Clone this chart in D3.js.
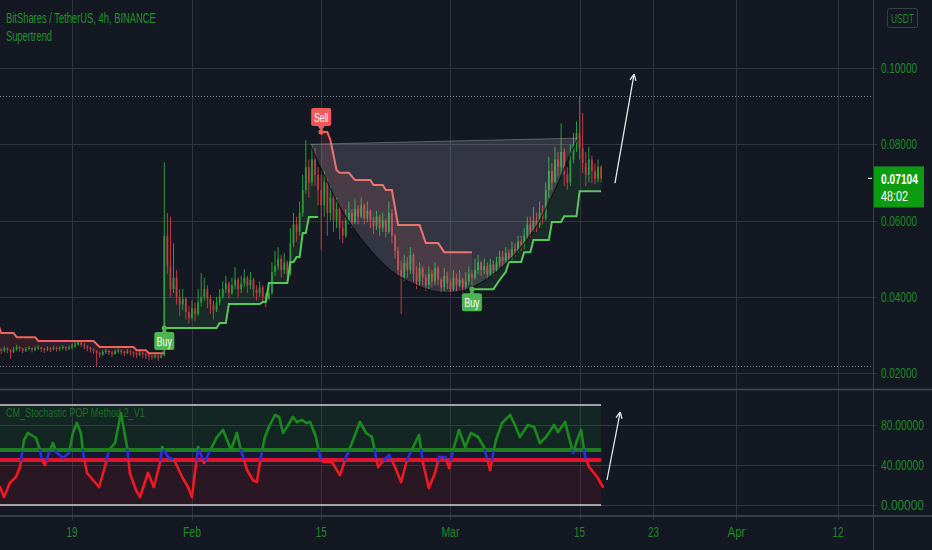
<!DOCTYPE html>
<html><head><meta charset="utf-8">
<script src="https://cdn.jsdelivr.net/npm/d3@7"></script>
<style>html,body{margin:0;padding:0;background:#141823;overflow:hidden}</style>
</head><body>
<svg id="chart" width="932" height="550"></svg>
<script>
// ---------------- DATA ----------------
const title = "BitShares / TetherUS, 4h, BINANCE";
const studyName = "Supertrend";
const oscName = "CM_Stochastic POP Method 2_V1";
const candleStart = Date.UTC(2021, 0, 11, 0);   // first candle
const candleHours = 8;
const firstOpen = 0.0262;
const closes = [
.0262,.0258,.0265,.0260,.0255,.0262,.0268,.0264,.0259,.0263,.0266,.0261,.0264,.0267,.0263,.0260,.0264,
.0262,.0266,.0263,.0265,.0268,.0264,.0267,.0270,.0274,.0280,.0274,.0270,.0265,.0262,
.0258,.0252,.0248,.0255,.0258,.0254,.0250,.0256,.0259,.0255,.0252,.0257,.0254,.0250,.0248,.0252,.0249,.0246,.0244,
.0242,.0245,.0240,.0246,
.0560,.0480,.0420,.0450,.0400,.0380,.0395,.0360,.0345,.0370,.0355,.0385,.0400,.0420,.0395,.0380,.0365,
.0385,.0400,.0420,.0435,.0410,.0430,.0445,.0420,.0435,.0450,.0430,.0445,.0420,.0410,.0425,.0400,.0395,.0410,.0465,.0480,.0500,.0470,.0490,.0460,
.0540,.0590,.0570,.0620,.0680,.0740,.0700,.0760,.0720,.0680,
.0640,.0700,.0620,.0660,.0600,.0630,.0580,.0560,.0600,.0620,.0595,.0630,.0610,.0640,.0605,.0625,.0600,
.0585,.0610,.0580,.0600,.0570,.0620,.0560,.0520,.0470,.0450,.0490,.0470,.0510,.0460,.0440,.0475,.0450,
.0430,.0460,.0440,.0475,.0445,.0425,.0455,.0435,.0420,.0450,.0430,.0445,.0425,.0440,.0460,
.0450,.0470,.0490,.0470,.0480,.0460,.0485,.0470,.0490,.0505,.0495,.0515,.0500,.0525,.0520,.0545,.0535,
.0560,.0590,.0570,.0600,.0585,.0620,.0605,.0680,.0730,.0700,.0760,.0740,.0780,.0720,.0700,.0760,.0800,.0830,.0790,.0750,.0720,.0760,.0730,.0710,.0740,.07104];
const highs = [
.0268,.0265,.0270,.0267,.0262,.0268,.0274,.0270,.0266,.0268,.0271,.0267,.0270,.0273,.0269,.0266,.0270,
.0268,.0271,.0269,.0270,.0273,.0270,.0272,.0277,.0281,.0285,.0283,.0278,.0272,.0268,
.0265,.0260,.0255,.0260,.0264,.0261,.0257,.0262,.0265,.0262,.0258,.0263,.0260,.0256,.0254,.0258,.0255,.0252,.0250,
.0248,.0250,.0247,.0252,
.0753,.0620,.0610,.0540,.0470,.0420,.0420,.0400,.0375,.0390,.0385,.0420,.0462,.0450,.0430,.0405,.0390,
.0400,.0420,.0440,.0455,.0440,.0450,.0478,.0450,.0455,.0472,.0455,.0465,.0450,.0430,.0440,.0430,.0410,.0440,.0490,.0520,.0530,.0510,.0515,.0495,
.0580,.0620,.0610,.0650,.0720,.0811,.0760,.0800,.0790,.0740,
.0720,.0730,.0710,.0690,.0670,.0660,.0640,.0600,.0630,.0650,.0630,.0655,.0640,.0660,.0645,.0650,.0630,
.0610,.0625,.0615,.0620,.0605,.0650,.0630,.0565,.0530,.0495,.0510,.0505,.0530,.0515,.0480,.0490,.0480,
.0460,.0480,.0470,.0490,.0480,.0450,.0475,.0465,.0445,.0470,.0460,.0470,.0450,.0465,.0480,
.0470,.0500,.0510,.0495,.0500,.0490,.0500,.0495,.0505,.0520,.0520,.0530,.0525,.0545,.0540,.0560,.0560,
.0580,.0610,.0610,.0635,.0620,.0650,.0640,.0700,.0767,.0750,.0793,.0780,.0854,.0790,.0740,.0800,.0830,.0860,.0924,.0882,.0780,.0793,.0770,.0750,.0760,.0745];
const lows = [
.0255,.0250,.0254,.0252,.0238,.0252,.0258,.0256,.0252,.0255,.0259,.0254,.0257,.0260,.0255,.0252,.0257,
.0255,.0259,.0256,.0258,.0261,.0258,.0260,.0262,.0266,.0272,.0268,.0262,.0257,.0254,
.0250,.0216,.0240,.0245,.0250,.0247,.0242,.0248,.0252,.0248,.0244,.0250,.0246,.0242,.0240,.0244,.0240,.0237,.0233,
.0235,.0237,.0232,.0238,
.0244,.0460,.0400,.0410,.0380,.0350,.0365,.0340,.0330,.0340,.0335,.0350,.0375,.0390,.0370,.0355,.0340,
.0360,.0378,.0395,.0410,.0395,.0405,.0420,.0400,.0410,.0425,.0410,.0420,.0400,.0390,.0400,.0385,.0372,.0390,.0405,.0455,.0470,.0450,.0460,.0440,
.0455,.0530,.0545,.0560,.0610,.0670,.0660,.0690,.0690,.0640,
.0523,.0610,.0560,.0600,.0570,.0580,.0550,.0540,.0555,.0590,.0580,.0590,.0590,.0605,.0590,.0595,.0580,
.0565,.0575,.0560,.0570,.0555,.0565,.0540,.0500,.0455,.0355,.0440,.0450,.0460,.0440,.0420,.0430,.0430,
.0415,.0420,.0425,.0430,.0430,.0410,.0415,.0420,.0405,.0415,.0415,.0425,.0410,.0415,.0430,
.0430,.0445,.0460,.0455,.0460,.0445,.0455,.0455,.0465,.0480,.0480,.0490,.0490,.0495,.0505,.0515,.0520,
.0525,.0550,.0555,.0570,.0570,.0580,.0590,.0600,.0660,.0680,.0700,.0715,.0720,.0690,.0680,.0690,.0750,.0780,.0760,.0725,.0690,.0700,.0698,.0695,.0700,.0700];

// Supertrend legs: [candle index, level]
const stRed1 = [[0,.0328],[1,.0305],[5,.0305],[6,.0294],[12,.0294],[13,.0284],[31,.0284],[33,.0268],[44,.0268],[45,.0260],[48,.0260],[49,.0252],[54,.0252]];
const stGreen1 = [[54,.0318],[71,.0318],[72,.0331],[74,.0331],[75,.0381],[85,.0381],[86,.0386],[87,.0386],[88,.0436],[94,.0436],[95,.0491],[96,.0491],[97,.0504],[98,.0504],[99,.0567],[100,.0567],[101,.0609],[104,.0609]];
const stRed2 = [[105,.0832],[107,.0832],[108,.0811],[109,.0772],[110,.0732],[111,.0725],[114,.0725],[116,.0706],[121,.0706],[122,.0693],[125,.0693],[126,.0680],[128,.0680],[130,.0588],[137,.0588],[139,.0541],[143,.0541],[145,.0517],[154,.0517]];
const stGreen2 = [[154,.0420],[161,.0420],[163,.0444],[165,.0465],[166,.0491],[170,.0491],[171,.0517],[173,.0517],[174,.0549],[179,.0549],[180,.0596],[183,.0596],[184,.0611],[188,.0611],[189,.0677],[196,.0677]];
const signalIdx = [54, 105, 154];
const signalType = ["Buy", "Sell", "Buy"];
const signalLevel = [.0318, .0832, .0420];

// Cup drawing (index, price)
const cupIdx = [101.4,105.6,111.1,116.6,121.8,127.4,132.9,138.1,143.6,149.2,154.4,159.9,165.4,170.6,175.2,179.4,182.7,185.9,188.5];
const cupPrice = [.0800,.0725,.0635,.0567,.0515,.0470,.0441,.0423,.0412,.0412,.0426,.0452,.0489,.0536,.0588,.0654,.0711,.0772,.0816];
// Arrows (index, value)
const arrowMain = [[200.5,.0698],[206.7,.0984]];
const arrowOsc = [[197.9,25],[202.2,93]];

// Stochastic
const stochIdx = [0.6,1.9,3.8,5.8,7.1,8.4,9.7,12.3,13.6,14.2,15.2,16.5,17.8,19.1,21.1,23,24.3,25.6,26.9,27.6,
28.9,30.8,32.8,34.7,36,38,39.9,41.9,42.8,44.8,46.1,48.7,50.6,52.6,53.3,55.2,57.2,59.8,61.7,63,
65,66.9,69.5,71.1,73.1,74.4,75.7,77.6,78.9,80.9,82.8,84.1,85.4,86.7,88,90,91.3,92.6,93.9,95.8,
97.1,98.8,100.1,101.4,103.3,104.6,105.9,108.5,111.1,113.1,115,117.6,119.6,121.5,123.5,125.4,127.1,129,131,132.9,
134.9,136.8,138.1,140,142,143.3,145.3,146.6,147.9,149.8,151.8,153.7,156,157.9,159.9,161.8,163.8,166.4,167.7,169.6,
172.2,174.2,176.1,178.1,180.7,182,184.3,185.6,186.9,188.2,189.5,190.8,192.1,194.7,196.6];
const stochVal = [18,8,22,28,38,65,72,67,55,45,40,52,62,52,47,52,72,82,72,52,
32,25,18,38,55,62,92,58,32,15,8,32,18,42,58,48,45,28,18,8,
58,42,58,68,75,65,55,72,55,35,25,23,48,68,78,90,88,72,78,88,
83,85,82,83,68,48,43,43,30,48,62,83,72,68,38,45,50,38,23,45,
58,70,42,17,32,48,48,37,55,75,58,72,68,58,35,65,82,90,82,68,
80,78,62,68,80,73,83,67,52,65,75,48,38,28,18];
const upperBand = 55, lowerBand = 45, oscTop = 100, oscBottom = 0;

const priceTicks = [0.02, 0.04, 0.06, 0.08, 0.10];
const oscTicks = [0, 40, 80];
const timeTicks = [[2021,0,19],[2021,1,1],[2021,1,15],[2021,2,1],[2021,2,15],[2021,2,23],[2021,3,1],[2021,3,12]];
const timeLabels = ["19","Feb","15","Mar","15","23","Apr","12"];
const lastPrice = "0.07104", countdown = "48:02", currency = "USDT";

// ---------------- DRAW ----------------
const svg = d3.select("#chart");
const W = 932, AX = 873, PANE1 = 389.5, PANE2 = 516;
const FONT = "'Liberation Sans', Arial, sans-serif";
const GREEN_TXT = "#1f9428";
const AXIS_TXT = "#1d8a26";

const xT = d3.scaleUtc().domain([new Date(Date.UTC(2021,0,19)), new Date(Date.UTC(2021,3,12))]).range([72, 838]);
const X = i => xT(new Date(candleStart + i * candleHours * 3600e3));
const yP = d3.scaleLinear().domain([0.10, 0.02]).range([68, 373]);
const yS = d3.scaleLinear().domain([100, 0]).range([405, 505]);

svg.append("rect").attr("width", W).attr("height", 550).attr("fill", "#141823");

const defs = svg.append("defs");
defs.append("clipPath").attr("id","cp1").append("rect").attr("x",0).attr("y",0).attr("width",AX).attr("height",PANE1);
defs.append("clipPath").attr("id","cp2").append("rect").attr("x",0).attr("y",PANE1).attr("width",AX).attr("height",PANE2-PANE1);

// grid
const grid = svg.append("g").attr("stroke", "#30343f").attr("stroke-width", 1);
timeTicks.forEach(t => {
  const x = Math.round(xT(new Date(Date.UTC(...t)))) + 0.5;
  grid.append("line").attr("x1", x).attr("x2", x).attr("y1", 0).attr("y2", PANE2 + 4);
});
priceTicks.forEach(p => {
  const y = Math.round(yP(p)) + 0.5;
  grid.append("line").attr("x1", 0).attr("x2", AX + 4).attr("y1", y).attr("y2", y);
});
oscTicks.forEach(v => {
  const y = Math.round(yS(v)) + 0.5;
  grid.append("line").attr("x1", 0).attr("x2", AX + 4).attr("y1", y).attr("y2", y);
});

// ---- main pane
const main = svg.append("g").attr("clip-path", "url(#cp1)");
const opens = closes.map((c, i) => i === 0 ? firstOpen : closes[i - 1]);
const hi = d3.max(highs), lo = d3.min(lows);
[hi, lo].forEach(p => {
  const y = Math.round(yP(p)) - 0.5;
  main.append("line").attr("x1", 0).attr("x2", AX).attr("y1", y).attr("y2", y)
    .attr("stroke", "#80838c").attr("stroke-dasharray", "1,2").attr("stroke-width", 1);
});

// supertrend fills
function stFill(leg, color) {
  const a = leg[0][0], b = leg[leg.length - 1][0];
  const top = leg.map(d => [X(d[0]), yP(d[1])]);
  const mids = d3.range(b, a - 1, -1).map(i => [X(i), yP((opens[i] + closes[i]) / 2)]);
  main.append("path").attr("d", d3.line()(top.concat(mids)) + "Z").attr("fill", color).attr("stroke", "none");
}
stFill(stRed1, "rgba(240,83,80,0.13)");
stFill(stGreen1, "rgba(76,175,80,0.12)");
stFill(stRed2, "rgba(240,83,80,0.13)");
stFill(stGreen2, "rgba(76,175,80,0.12)");

// candles
const cg = main.append("g");
closes.forEach((c, i) => {
  const o = opens[i], x = X(i);
  const col = c >= o ? "#2a9d3a" : "#c23a42";
  cg.append("line").attr("x1", x).attr("x2", x).attr("y1", yP(highs[i])).attr("y2", yP(lows[i]))
    .attr("stroke", col).attr("stroke-width", 1);
  const y1 = yP(Math.max(o, c)), y2 = yP(Math.min(o, c));
  cg.append("rect").attr("x", x - 0.9).attr("width", 1.8).attr("y", y1).attr("height", Math.max(1, y2 - y1)).attr("fill", col);
});

// supertrend lines
const line = d3.line().x(d => X(d[0])).y(d => yP(d[1]));
[[stRed1, "#f0625e"], [stGreen1, "#58c85c"], [stRed2, "#f0625e"], [stGreen2, "#58c85c"]].forEach(([leg, col]) => {
  main.append("path").attr("d", line(leg)).attr("fill", "none").attr("stroke", col).attr("stroke-width", 2);
});

// cup drawing
const cupPts = cupIdx.map((d, k) => [X(d), yP(cupPrice[k])]);
const curvePath = d3.line().curve(d3.curveCatmullRom)(cupPts);
main.append("path").attr("d", curvePath + "Z").attr("fill", "rgba(205,208,220,0.17)").attr("stroke", "none");
main.append("path").attr("d", curvePath).attr("fill", "none").attr("stroke", "rgba(10,10,14,0.75)").attr("stroke-width", 1.2);
main.append("line").attr("x1", cupPts[0][0]).attr("y1", cupPts[0][1]).attr("x2", cupPts[cupPts.length-1][0]).attr("y2", cupPts[cupPts.length-1][1])
  .attr("stroke", "rgba(200,202,210,0.35)").attr("stroke-width", 1);

// text helper: fit text to a target width by horizontal scaling
function txt(parent, x, y, s, size, fill, opts = {}) {
  const g = parent.append("g").attr("transform", `translate(${x},${y})`);
  const t = g.append("text").attr("x", 0).attr("y", 0).attr("font-family", FONT).attr("font-size", size)
    .attr("fill", fill).attr("font-weight", opts.weight || "normal").attr("text-anchor", opts.anchor || "start").text(s);
  if (opts.len) {
    const w = t.node().getComputedTextLength();
    if (w > 0) t.attr("transform", `scale(${opts.len / w},1)`);
  }
  return g;
}

// signals
signalIdx.forEach((i, k) => {
  const type = signalType[k];
  const x = X(i), y = yP(signalLevel[k]);
  const g = main.append("g");
  if (type === "Buy") {
    const col = "#4cb550";
    g.append("circle").attr("cx", x).attr("cy", y).attr("r", 2.6).attr("fill", col);
    g.append("path").attr("d", `M${x},${y+1}L${x-3.5},${y+5}L${x+3.5},${y+5}Z`).attr("fill", col);
    g.append("rect").attr("x", x - 10).attr("y", y + 4).attr("width", 20).attr("height", 18).attr("rx", 2).attr("fill", col);
    txt(g, x, y + 18, "Buy", 13, "#fff", { anchor: "middle", len: 15 });
  } else {
    const col = "#f05a58";
    g.append("circle").attr("cx", x).attr("cy", y).attr("r", 2.6).attr("fill", col);
    g.append("path").attr("d", `M${x},${y-1}L${x-3.5},${y-6}L${x+3.5},${y-6}Z`).attr("fill", col);
    g.append("rect").attr("x", x - 10).attr("y", y - 24).attr("width", 20).attr("height", 18).attr("rx", 2).attr("fill", col);
    txt(g, x, y - 10, "Sell", 13, "#fff", { anchor: "middle", len: 14 });
  }
});

// arrows
function arrow(g, p0, p1) {
  g.append("line").attr("x1", p0[0]).attr("y1", p0[1]).attr("x2", p1[0]).attr("y2", p1[1])
    .attr("stroke", "#e6e6ea").attr("stroke-width", 1.3);
  const ang = Math.atan2(p1[1] - p0[1], p1[0] - p0[0]);
  [0.45, -0.45].forEach(da => {
    const a = ang + Math.PI + da;
    g.append("line").attr("x1", p1[0]).attr("y1", p1[1]).attr("x2", p1[0] + 7 * Math.cos(a)).attr("y2", p1[1] + 7 * Math.sin(a))
      .attr("stroke", "#e6e6ea").attr("stroke-width", 1.3);
  });
}
arrow(main, [X(arrowMain[0][0]), yP(arrowMain[0][1])], [X(arrowMain[1][0]), yP(arrowMain[1][1])]);

// ---- oscillator pane
const osc = svg.append("g").attr("clip-path", "url(#cp2)");
const x0 = X(0) < 0 ? 0 : X(0), x1 = X(closes.length - 1);
osc.append("rect").attr("x", x0).attr("width", x1 - x0).attr("y", yS(oscTop)).attr("height", yS(upperBand) - yS(oscTop)).attr("fill", "rgba(20,140,40,0.13)");
osc.append("rect").attr("x", x0).attr("width", x1 - x0).attr("y", yS(upperBand)).attr("height", yS(lowerBand) - yS(upperBand)).attr("fill", "rgba(40,40,200,0.10)");
osc.append("rect").attr("x", x0).attr("width", x1 - x0).attr("y", yS(lowerBand)).attr("height", yS(oscBottom) - yS(lowerBand)).attr("fill", "rgba(160,20,40,0.15)");
[[oscTop, "#cfcfd4", 1.4], [oscBottom, "#cfcfd4", 1.4], [upperBand, "#1f7d1f", 4], [lowerBand, "#e0142a", 4]].forEach(([v, col, w]) => {
  osc.append("line").attr("x1", x0).attr("x2", x1).attr("y1", yS(v)).attr("y2", yS(v)).attr("stroke", col).attr("stroke-width", w);
});
const colOf = v => v > upperBand ? "#1a8a1e" : (v < lowerBand ? "#ee1a22" : "#2f2fd8");
for (let k = 0; k < stochIdx.length - 1; k++) {
  const a = [stochIdx[k], stochVal[k]], b = [stochIdx[k+1], stochVal[k+1]];
  const ts = [0, 1];
  [lowerBand, upperBand].forEach(th => {
    if ((a[1] - th) * (b[1] - th) < 0) ts.push((th - a[1]) / (b[1] - a[1]));
  });
  ts.sort((p, q) => p - q);
  for (let j = 0; j < ts.length - 1; j++) {
    const t0 = ts[j], t1 = ts[j+1];
    const pA = [a[0] + (b[0]-a[0])*t0, a[1] + (b[1]-a[1])*t0];
    const pB = [a[0] + (b[0]-a[0])*t1, a[1] + (b[1]-a[1])*t1];
    osc.append("line").attr("x1", X(pA[0])).attr("y1", yS(pA[1])).attr("x2", X(pB[0])).attr("y2", yS(pB[1]))
      .attr("stroke", colOf((pA[1] + pB[1]) / 2)).attr("stroke-width", 2.6).attr("stroke-linecap", "round");
  }
}
arrow(osc, [X(arrowOsc[0][0]), yS(arrowOsc[0][1])], [X(arrowOsc[1][0]), yS(arrowOsc[1][1])]);

// separators / axis line
svg.append("line").attr("x1", 0).attr("x2", W).attr("y1", PANE1).attr("y2", PANE1).attr("stroke", "#454955").attr("stroke-width", 1.5);
svg.append("line").attr("x1", 0).attr("x2", W).attr("y1", PANE2).attr("y2", PANE2).attr("stroke", "#454955").attr("stroke-width", 1.5);
svg.append("line").attr("x1", AX + 0.5).attr("x2", AX + 0.5).attr("y1", 0).attr("y2", 550).attr("stroke", "#3a3e4a").attr("stroke-width", 1);

// legends
txt(svg, 6, 23, title, 15, GREEN_TXT, { len: 150 });
txt(svg, 6, 41, studyName, 15, GREEN_TXT, { len: 46 });
txt(svg, 6, 417, oscName, 13, "#1a6e22", { len: 139 });

// price axis
priceTicks.forEach(p => txt(svg, 881, yP(p) + 5, p.toFixed(5), 15, AXIS_TXT, { len: 36 }));
oscTicks.forEach(v => txt(svg, 881, yS(v) + 5, v.toFixed(5), 15, AXIS_TXT, { len: 43 }));
// currency box
svg.append("rect").attr("x", 887.5).attr("y", 8.5).attr("width", 30).attr("height", 19).attr("rx", 2)
  .attr("fill", "none").attr("stroke", "#3a3e4a");
txt(svg, 902.5, 23, currency, 13, AXIS_TXT, { anchor: "middle", len: 23 });
// last price tag
const lastY = yP(closes[closes.length - 1]);
svg.append("rect").attr("x", AX + 1).attr("y", lastY - 12).attr("width", 50).attr("height", 41).attr("fill", "#0c9c12");
svg.append("line").attr("x1", AX - 5).attr("x2", AX - 1).attr("y1", lastY).attr("y2", lastY).attr("stroke", "#dddddd").attr("stroke-width", 1.2);
txt(svg, 881, lastY + 6, lastPrice, 15, "#ffffff", { len: 37, weight: "bold" });
txt(svg, 881, lastY + 23, countdown, 15, "#ffffff", { len: 27 });

// time axis
timeTicks.forEach((t, k) => {
  const x = xT(new Date(Date.UTC(...t)));
  const s = timeLabels[k];
  txt(svg, x, 537, s, 15, AXIS_TXT, { anchor: "middle", len: s.length === 3 ? 18 : 11 });
});
</script>
</body></html>
